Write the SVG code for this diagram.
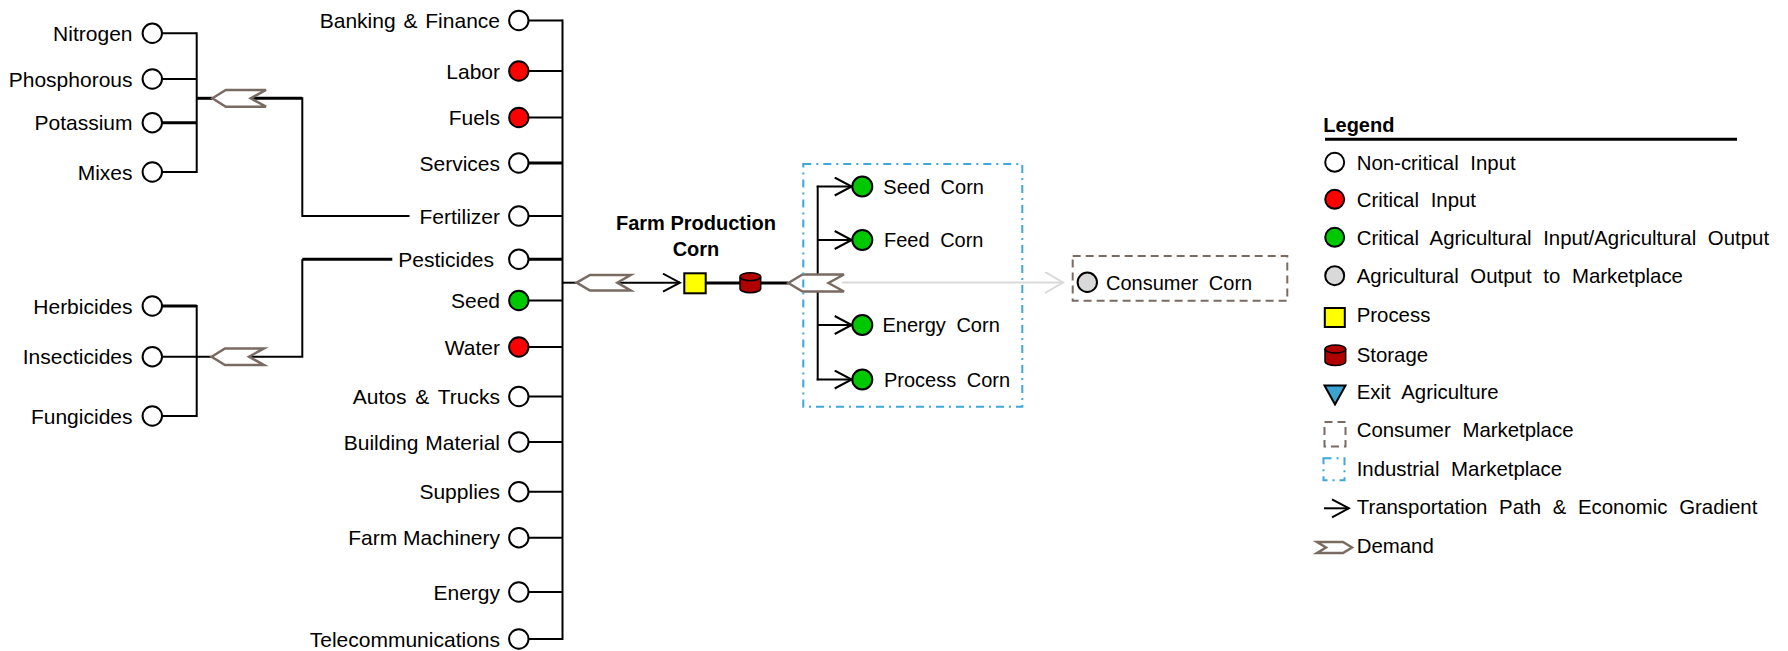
<svg xmlns="http://www.w3.org/2000/svg" width="1788" height="651" viewBox="0 0 1788 651">
<style>
text{font-family:"Liberation Sans",Arial,sans-serif;font-size:20px;fill:#000}
.r{text-anchor:end;font-size:21px}
.w{word-spacing:5px}
.lg{font-size:20.4px;word-spacing:6px}
.b{font-weight:bold}
.ln{stroke:#000;stroke-width:2;fill:none}
.thk{stroke:#000;stroke-width:3;fill:none}
.nc{fill:#fff;stroke:#000;stroke-width:2}
.ci{fill:#ff0000;stroke:#000;stroke-width:2}
.ag{fill:#00c800;stroke:#000;stroke-width:2}
.mk{fill:#d9d9d9;stroke:#000;stroke-width:2}
.dem{fill:#fff;stroke:#7a6b62;stroke-width:2.5;stroke-linejoin:miter}
.pr{fill:#ffff00;stroke:#000;stroke-width:2}
.st{fill:#b00000;stroke:#000;stroke-width:1.5}
.ind{fill:none;stroke:#3ea8d8;stroke-width:2;stroke-dasharray:8 5 2 5}
.con{fill:none;stroke:#7a6b62;stroke-width:2;stroke-dasharray:8 5}
</style>
<defs>
<marker id="arr" markerUnits="userSpaceOnUse" markerWidth="20" markerHeight="22" refX="18" refY="10" orient="auto">
<path d="M1,1 L18,10 L1,19" fill="none" stroke="#000" stroke-width="2"/>
</marker>
<marker id="garr" markerUnits="userSpaceOnUse" markerWidth="22" markerHeight="24" refX="19" refY="11" orient="auto">
<path d="M1,0.5 L19,11 L1,21.5" fill="none" stroke="#d9d9d9" stroke-width="2"/>
</marker>
</defs>

<g id="connectors">
<line class="ln" x1="162" y1="33.3" x2="196.7" y2="33.3"/>
<line class="ln" x1="162" y1="79" x2="196.7" y2="79"/>
<line class="thk" x1="162" y1="122.7" x2="196.7" y2="122.7"/>
<line class="ln" x1="162" y1="172" x2="196.7" y2="172"/>
<line class="ln" x1="196.7" y1="32.3" x2="196.7" y2="173"/>
<line class="thk" x1="196.7" y1="98.3" x2="212.4" y2="98.3"/>
<polyline class="thk" points="250.7,98.3 302.3,98.3"/>
<polyline class="ln" points="302.3,97.3 302.3,216 409.5,216"/>
<line class="thk" x1="162" y1="306" x2="196.7" y2="306"/>
<line class="ln" x1="162" y1="356.7" x2="211.6" y2="356.7"/>
<line class="ln" x1="162" y1="416" x2="196.7" y2="416"/>
<line class="ln" x1="196.7" y1="305" x2="196.7" y2="417"/>
<polyline class="ln" points="250,356.7 302.3,356.7 302.3,259.3"/>
<line class="thk" x1="302.3" y1="259.3" x2="392.3" y2="259.3"/>
<line class="ln" x1="562.5" y1="19.5" x2="562.5" y2="640"/>
<line class="ln" x1="528.5" y1="20.5" x2="562.5" y2="20.5"/>
<line class="ln" x1="528.5" y1="71" x2="562.5" y2="71"/>
<line class="ln" x1="528.5" y1="117.5" x2="562.5" y2="117.5"/>
<line class="thk" x1="528.5" y1="163" x2="562.5" y2="163"/>
<line class="ln" x1="528.5" y1="216" x2="562.5" y2="216"/>
<line class="thk" x1="528.5" y1="259.3" x2="562.5" y2="259.3"/>
<line class="ln" x1="528.5" y1="300.5" x2="562.5" y2="300.5"/>
<line class="ln" x1="528.5" y1="347" x2="562.5" y2="347"/>
<line class="ln" x1="528.5" y1="396.5" x2="562.5" y2="396.5"/>
<line class="ln" x1="528.5" y1="442" x2="562.5" y2="442"/>
<line class="ln" x1="528.5" y1="491.7" x2="562.5" y2="491.7"/>
<line class="ln" x1="528.5" y1="537.7" x2="562.5" y2="537.7"/>
<line class="ln" x1="528.5" y1="592" x2="562.5" y2="592"/>
<line class="ln" x1="528.5" y1="639" x2="562.5" y2="639"/>
<line class="ln" x1="562.5" y1="282.7" x2="576.7" y2="282.7"/>
<line class="ln" x1="617.3" y1="282.7" x2="680" y2="282.7" marker-end="url(#arr)"/>
<line class="thk" x1="705.7" y1="283" x2="740" y2="283"/>
<line class="thk" x1="760.7" y1="283" x2="788.3" y2="283"/>
<line x1="842" y1="282.5" x2="1063" y2="282.5" stroke="#d9d9d9" stroke-width="2" marker-end="url(#garr)"/>
<line class="ln" x1="817.7" y1="185.7" x2="817.7" y2="380.3"/>
<line class="ln" x1="816.7" y1="186.5" x2="851.7" y2="186.5" marker-end="url(#arr)"/>
<line class="ln" x1="817.7" y1="240" x2="851.7" y2="240" marker-end="url(#arr)"/>
<line class="ln" x1="817.7" y1="325" x2="851.7" y2="325" marker-end="url(#arr)"/>
<line class="ln" x1="816.7" y1="379.5" x2="851.7" y2="379.5" marker-end="url(#arr)"/>
</g>

<g id="demand-fertilizer"><polygon class="dem" points="212.4,98.3 225.8,90 266,90 250.7,98.3 266,106.7 225.8,106.7"/></g>
<g id="demand-pesticides"><polygon class="dem" points="211.6,356.7 225,348.4 264,348.4 249,356.7 264,365 225,365"/></g>
<g id="demand-inputs"><polygon class="dem" points="576.7,282.7 590,275 630.7,275 617.3,282.7 630.7,290.5 590,290.5"/></g>
<g id="demand-outputs"><polygon class="dem" points="788.3,283 802.5,274.5 844,274.5 828.5,283 844,291.5 802.5,291.5"/></g>

<g id="nitrogen"><circle class="nc" cx="152.3" cy="33.3" r="9.7"/><text class="r" x="132.5" y="40.8">Nitrogen</text></g>
<g id="phosphorous"><circle class="nc" cx="152.3" cy="79" r="9.7"/><text class="r" x="132.5" y="86.5">Phosphorous</text></g>
<g id="potassium"><circle class="nc" cx="152.3" cy="122.7" r="9.7"/><text class="r" x="132.5" y="130.2">Potassium</text></g>
<g id="mixes"><circle class="nc" cx="152.3" cy="172" r="9.7"/><text class="r" x="132.5" y="179.5">Mixes</text></g>
<g id="herbicides"><circle class="nc" cx="152.3" cy="306" r="9.7"/><text class="r" x="132.5" y="313.5">Herbicides</text></g>
<g id="insecticides"><circle class="nc" cx="152.3" cy="356.7" r="9.7"/><text class="r" x="132.5" y="364.2">Insecticides</text></g>
<g id="fungicides"><circle class="nc" cx="152.3" cy="416" r="9.7"/><text class="r" x="132.5" y="423.5">Fungicides</text></g>

<g id="banking"><circle class="nc" cx="518.8" cy="20.5" r="9.7"/><text class="r" x="500" y="28" word-spacing="2">Banking &amp; Finance</text></g>
<g id="labor"><circle class="ci" cx="518.8" cy="71" r="9.7"/><text class="r" x="500" y="78.5">Labor</text></g>
<g id="fuels"><circle class="ci" cx="518.8" cy="117.5" r="9.7"/><text class="r" x="500" y="125">Fuels</text></g>
<g id="services"><circle class="nc" cx="518.8" cy="163" r="9.7"/><text class="r" x="500" y="170.5">Services</text></g>
<g id="fertilizer"><circle class="nc" cx="518.8" cy="216" r="9.7"/><text class="r" x="500" y="223.5">Fertilizer</text></g>
<g id="pesticides"><circle class="nc" cx="518.8" cy="259.3" r="9.7"/><text class="r" x="494" y="266.8">Pesticides</text></g>
<g id="seed"><circle class="ag" cx="518.8" cy="300.5" r="9.7"/><text class="r" x="500" y="308">Seed</text></g>
<g id="water"><circle class="ci" cx="518.8" cy="347" r="9.7"/><text class="r" x="500" y="354.5">Water</text></g>
<g id="autos"><circle class="nc" cx="518.8" cy="396.5" r="9.7"/><text class="r" x="500" y="404" word-spacing="3">Autos &amp; Trucks</text></g>
<g id="building"><circle class="nc" cx="518.8" cy="442" r="9.7"/><text class="r" x="500" y="449.5" word-spacing="1">Building Material</text></g>
<g id="supplies"><circle class="nc" cx="518.8" cy="491.7" r="9.7"/><text class="r" x="500" y="499.2">Supplies</text></g>
<g id="machinery"><circle class="nc" cx="518.8" cy="537.7" r="9.7"/><text class="r" x="500" y="545.2">Farm Machinery</text></g>
<g id="energy"><circle class="nc" cx="518.8" cy="592" r="9.7"/><text class="r" x="500" y="599.5">Energy</text></g>
<g id="telecom"><circle class="nc" cx="518.8" cy="639" r="9.7"/><text class="r" x="500" y="646.5">Telecommunications</text></g>

<g id="farm-production">
<text class="b" x="696" y="230" text-anchor="middle" font-size="21.3">Farm Production</text>
<text class="b" x="696" y="256" text-anchor="middle" font-size="21.3">Corn</text>
<rect class="pr" x="684.3" y="273.3" width="21.4" height="20"/>
<path class="st" d="M740,276.7 V288.7 A10.35,4 0 0 0 760.7,288.7 V276.7 A10.35,4 0 0 0 740,276.7 Z"/>
<path class="st" d="M740,276.7 A10.35,4 0 0 0 760.7,276.7"/>
</g>

<g id="industrial-marketplace">
<rect class="ind" x="803.3" y="164" width="219" height="242.7"/>
</g>
<g id="seed-corn"><circle class="ag" cx="862.3" cy="186.5" r="10"/><text class="w" x="883.3" y="193.7">Seed Corn</text></g>
<g id="feed-corn"><circle class="ag" cx="862.3" cy="240" r="10"/><text class="w" x="884" y="247.2">Feed Corn</text></g>
<g id="energy-corn"><circle class="ag" cx="862.3" cy="325" r="10"/><text class="w" x="882.5" y="332.2">Energy Corn</text></g>
<g id="process-corn"><circle class="ag" cx="862.3" cy="379.5" r="10"/><text class="w" x="884" y="386.7">Process Corn</text></g>

<g id="consumer-corn">
<rect class="con" x="1072.7" y="256" width="214.6" height="44.7"/>
<circle class="mk" cx="1087.3" cy="282.3" r="9.7"/>
<text class="w" x="1106" y="289.5">Consumer Corn</text>
</g>

<g id="legend">
<text class="b" x="1323.3" y="132.3">Legend</text>
<line x1="1325" y1="139.3" x2="1737" y2="139.3" stroke="#000" stroke-width="3"/>
<circle class="nc" cx="1334.7" cy="162.3" r="9.5"/>
<text class="lg" x="1356.7" y="169.6">Non-critical Input</text>
<circle class="ci" cx="1334.7" cy="199.3" r="9.5"/>
<text class="lg" x="1356.7" y="206.6">Critical Input</text>
<circle class="ag" cx="1334.7" cy="237.3" r="9.5"/>
<text class="lg" x="1356.7" y="244.6">Critical Agricultural Input/Agricultural Output</text>
<circle class="mk" cx="1334.7" cy="275.7" r="9.5"/>
<text class="lg" x="1356.7" y="283">Agricultural Output to Marketplace</text>
<rect class="pr" x="1324.8" y="308" width="20" height="19"/>
<text class="lg" x="1356.7" y="322.3">Process</text>
<path class="st" d="M1325,349 V361.5 A10.35,4 0 0 0 1345.7,361.5 V349 A10.35,4 0 0 0 1325,349 Z"/>
<path class="st" d="M1325,349 A10.35,4 0 0 0 1345.7,349"/>
<text class="lg" x="1356.7" y="362.3">Storage</text>
<polygon points="1324.5,385.5 1345.5,385.5 1335,404.5" fill="#3ba3d0" stroke="#000" stroke-width="2"/>
<text class="lg" x="1356.7" y="399">Exit Agriculture</text>
<rect class="con" x="1324.5" y="422" width="21" height="24.5" stroke-dasharray="6 4"/>
<text class="lg" x="1356.7" y="437.3">Consumer Marketplace</text>
<rect class="ind" x="1323.5" y="458.3" width="21" height="22" stroke-dasharray="6 4 2 4"/>
<text class="lg" x="1356.7" y="476.3">Industrial Marketplace</text>
<line class="ln" x1="1324" y1="508.3" x2="1349" y2="508.3" marker-end="url(#arr)"/>
<text class="lg" x="1356.7" y="514.3">Transportation Path &amp; Economic Gradient</text>
<polygon class="dem" points="1317,542 1343,542 1352,547.5 1343,553 1317,553 1326,547.5"/>
<text class="lg" x="1356.7" y="553.3">Demand</text>
</g>
</svg>
